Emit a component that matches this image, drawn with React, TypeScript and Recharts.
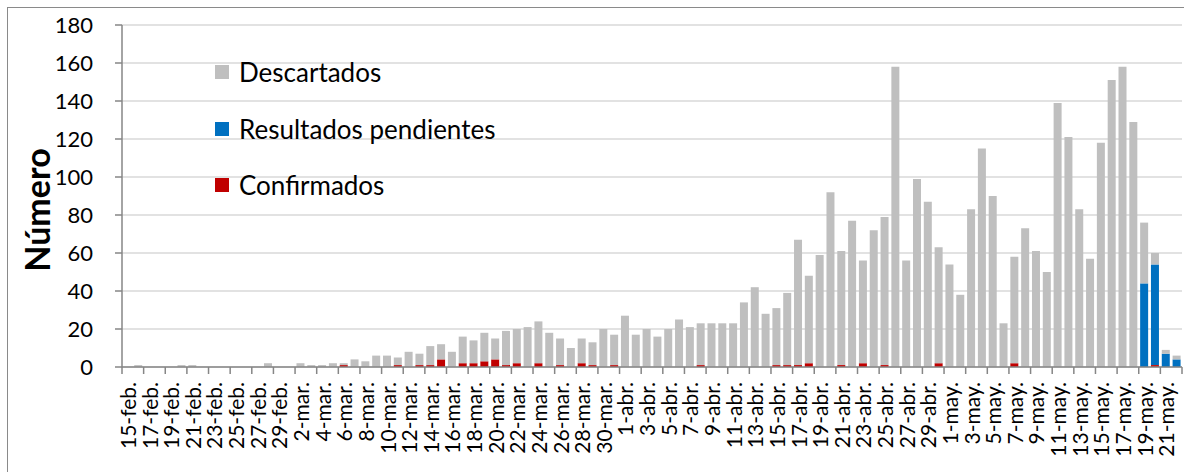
import { BarChart, Bar, XAxis, YAxis, CartesianGrid, Legend } from "recharts";

// categories: one bar per day, 15-feb to 22-may
const dates: string[] = [
  ...Array.from({ length: 15 }, (_, i) => `${i + 15}-feb.`),
  ...Array.from({ length: 31 }, (_, i) => `${i + 1}-mar.`),
  ...Array.from({ length: 30 }, (_, i) => `${i + 1}-abr.`),
  ...Array.from({ length: 22 }, (_, i) => `${i + 1}-may.`),
];

const confirmados = [
  0, 0, 0, 0, 0, 0, 0, 0, 0, 0, 0, 0, 0, 0, 0,
  0, 0, 0, 0, 0, 1, 0, 0, 0, 0, 1, 0, 1, 1, 4, 0, 2, 2, 3, 4, 1, 2, 0, 2, 0, 1, 0, 2, 1, 0, 1,
  0, 0, 0, 0, 0, 0, 0, 1, 0, 0, 0, 0, 0, 0, 1, 1, 1, 2, 0, 0, 1, 0, 2, 0, 1, 0, 0, 0, 0, 2,
  0, 0, 0, 0, 0, 0, 2, 0, 0, 0, 0, 0, 0, 0, 0, 0, 0, 0, 0, 1, 0, 0,
];

const pendientes = [
  0, 0, 0, 0, 0, 0, 0, 0, 0, 0, 0, 0, 0, 0, 0,
  0, 0, 0, 0, 0, 0, 0, 0, 0, 0, 0, 0, 0, 0, 0, 0, 0, 0, 0, 0, 0, 0, 0, 0, 0, 0, 0, 0, 0, 0, 0,
  0, 0, 0, 0, 0, 0, 0, 0, 0, 0, 0, 0, 0, 0, 0, 0, 0, 0, 0, 0, 0, 0, 0, 0, 0, 0, 0, 0, 0, 0,
  0, 0, 0, 0, 0, 0, 0, 0, 0, 0, 0, 0, 0, 0, 0, 0, 0, 0, 44, 53, 7, 4,
];

const descartados = [
  0, 1, 0, 0, 0, 1, 1, 0, 0, 0, 0, 0, 0, 2, 0,
  0, 2, 1, 1, 2, 1, 4, 3, 6, 6, 4, 8, 6, 10, 8, 8, 14, 12, 15, 11, 18, 18, 21, 22, 18, 14, 10, 13, 12, 20, 16,
  27, 17, 20, 16, 20, 25, 21, 22, 23, 23, 23, 34, 42, 28, 30, 38, 66, 46, 59, 92, 60, 77, 54, 72, 78, 158, 56, 99, 87, 61,
  54, 38, 83, 115, 90, 23, 56, 73, 61, 50, 139, 121, 83, 57, 118, 151, 158, 129, 32, 6, 2, 2,
];

const yTicks = [0, 20, 40, 60, 80, 100, 120, 140, 160, 180];

const legendItems = [
  { label: "Descartados", color: "#bfbfbf" },
  { label: "Resultados pendientes", color: "#0070c0" },
  { label: "Confirmados", color: "#c00000" },
];

const data = dates.map((date, i) => ({
  date,
  confirmados: confirmados[i],
  pendientes: pendientes[i],
  descartados: descartados[i],
}));

const FONT = "Lato, 'Open Sans', sans-serif";
const AXIS = "#868686";
const PLOT_LEFT = 122;
const PLOT_RIGHT = 1182;
const STEP = (PLOT_RIGHT - PLOT_LEFT) / dates.length;

// tick marks sit between categories, one every two days, labels at the centre
const DateTick = (props: any) => {
  const { x, y, payload } = props;
  const idx = dates.indexOf(payload.value);
  const left = x - STEP / 2;
  return (
    <g>
      <line x1={left} x2={left} y1={y} y2={y + 7} stroke={AXIS} strokeWidth={1.5} />
      {idx === dates.length - 2 && (
        <line x1={x + 1.5 * STEP} x2={x + 1.5 * STEP} y1={y} y2={y + 7} stroke={AXIS} strokeWidth={1.5} />
      )}
      <text
        x={x}
        y={y + 15}
        transform={`rotate(-90 ${x} ${y + 15})`}
        textAnchor="end"
        dominantBaseline="central"
        fontSize={21}
        fontFamily={FONT}
        fill="#000"
      >
        {payload.value}
      </text>
    </g>
  );
};

const renderLegend = () => (
  <div style={{ fontFamily: FONT, fontSize: 26, color: "#000" }}>
    {legendItems.map((item) => (
      <div key={item.label} style={{ display: "flex", alignItems: "center", height: 56.5 }}>
        <span style={{ width: 14, height: 14, background: item.color, marginRight: 10 }} />
        <span>{item.label}</span>
      </div>
    ))}
  </div>
);

const App = () => {
  return (
    <div style={{ position: "absolute", left: 0, top: 0, width: 1184, height: 472, overflow: "hidden", background: "#fff" }}>
      <div
        style={{
          position: "absolute",
          left: 7,
          top: 7,
          width: 1300,
          height: 600,
          border: "1.5px solid #8a8a8a",
        }}
      />
      <BarChart
        width={1184}
        height={472}
        data={data}
        margin={{ top: 25, right: 2, bottom: 0, left: 0 }}
        barCategoryGap="13%"
        style={{ position: "absolute", left: 0, top: 0 }}
      >
        <CartesianGrid vertical={false} stroke="#d9d9d9" strokeWidth={1.5} />
        <XAxis
          dataKey="date"
          interval={1}
          height={105}
          tickSize={0}
          tickMargin={0}
          tickLine={false}
          axisLine={{ stroke: AXIS, strokeWidth: 1.5 }}
          tick={<DateTick />}
        />
        <YAxis
          width={122}
          domain={[0, 180]}
          ticks={yTicks}
          tickSize={7}
          tickMargin={22}
          axisLine={{ stroke: AXIS, strokeWidth: 1.5 }}
          tickLine={{ stroke: AXIS, strokeWidth: 1.5 }}
          tick={{ fontSize: 22, fontFamily: FONT, fill: "#000" }}
          label={{
            content: () => (
              <text
                transform="translate(36 210) rotate(-90)"
                textAnchor="middle"
                dominantBaseline="central"
                fontSize={34}
                fontWeight="bold"
                fontFamily={FONT}
                fill="#000"
              >
                Número
              </text>
            ),
          }}
        />
        <Legend
          layout="vertical"
          align="center"
          verticalAlign="middle"
          wrapperStyle={{ left: 215, top: 44, width: 330, height: 170 }}
          content={renderLegend}
        />
        <Bar dataKey="confirmados" stackId="a" fill="#c00000" isAnimationActive={false} />
        <Bar dataKey="pendientes" stackId="a" fill="#0070c0" isAnimationActive={false} />
        <Bar dataKey="descartados" stackId="a" fill="#bfbfbf" isAnimationActive={false} />
      </BarChart>
    </div>
  );
};

export default App;
